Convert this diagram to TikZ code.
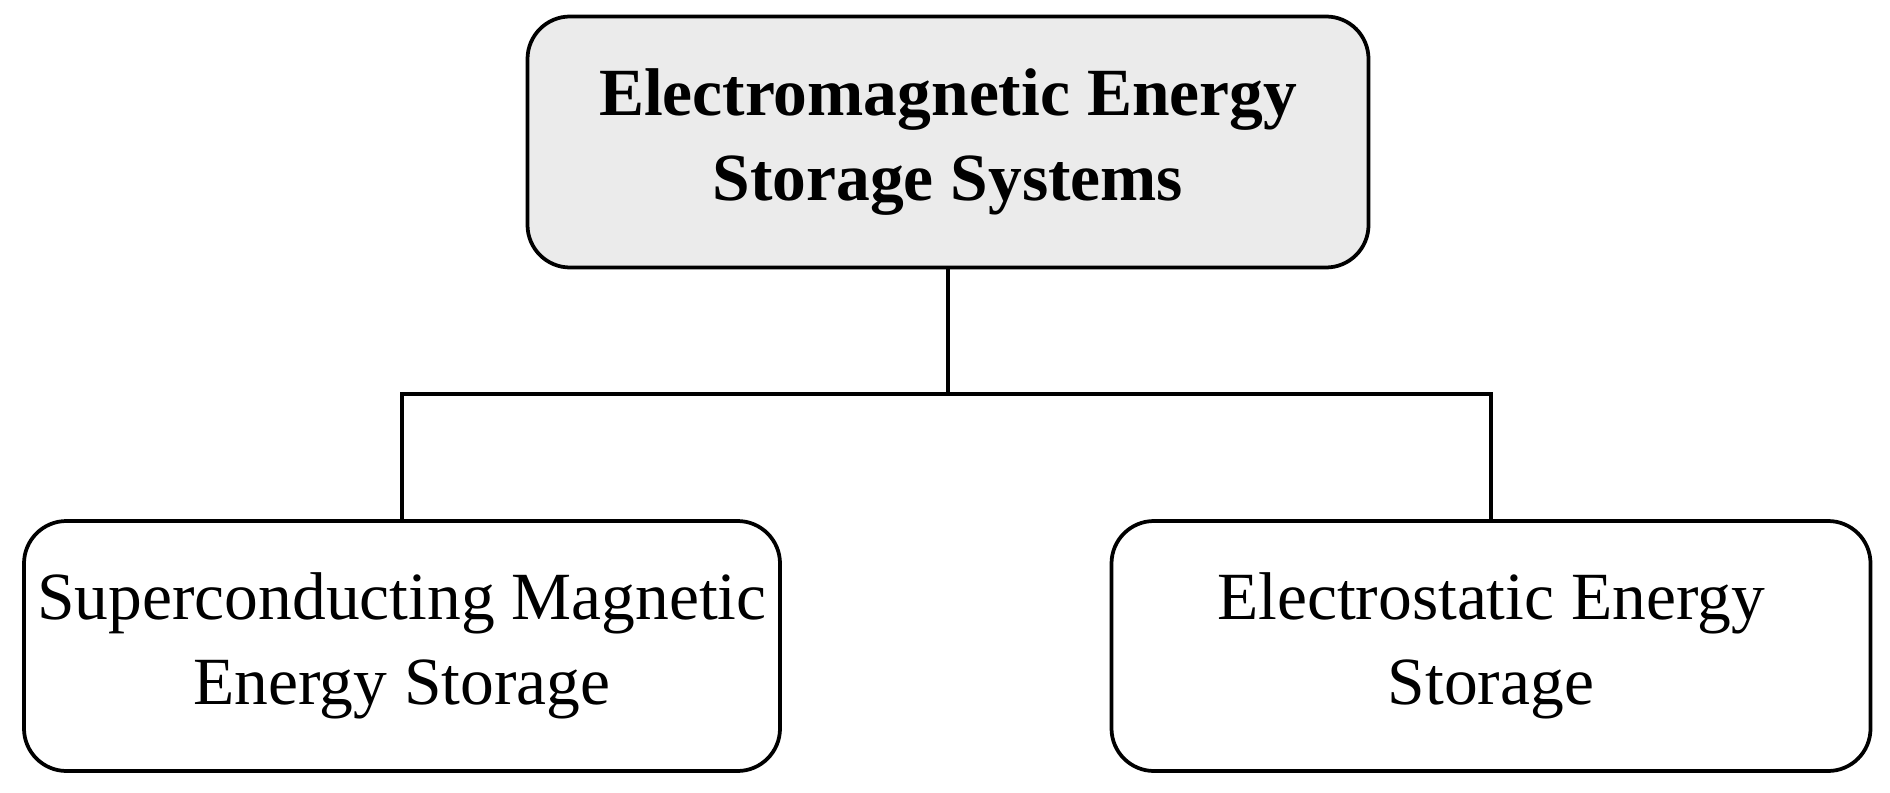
\documentclass[tikz,border=0pt]{standalone}
\usepackage{fontspec}
\setmainfont{Liberation Serif}
\begin{document}
\begin{tikzpicture}[x=0.4pt,y=-0.4pt,
  box/.style={draw=black,line width=1.5pt,rounded corners=17pt,align=center,inner sep=0pt,
    font=\fontsize{27}{34}\selectfont},
  conn/.style={line width=1.3pt}]
\useasboundingbox (0,0) rectangle (1890,792);
\node[box,fill=black!8,font=\fontsize{27}{34}\selectfont\bfseries,minimum width=841*0.4pt,minimum height=251*0.4pt] (top) at (948,142) {Electromagnetic Energy\\Storage Systems};
\node[box,minimum width=756*0.4pt,minimum height=250*0.4pt] (l) at (402,646) {Superconducting Magnetic\\Energy Storage};
\node[box,minimum width=759*0.4pt,minimum height=250*0.4pt] (r) at (1491,646) {Electrostatic Energy\\Storage};
\coordinate (j) at (948,394);
\draw[conn] (top.south) -- (j);
\draw[conn] (l.north) |- (j) -| (r.north);
\end{tikzpicture}
\end{document}
